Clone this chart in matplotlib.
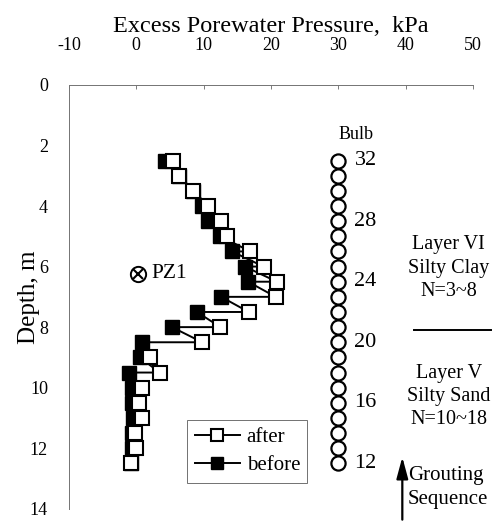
import numpy as np
import matplotlib
matplotlib.use('Agg')
import matplotlib.pyplot as plt
from matplotlib.lines import Line2D

plt.rcParams['font.family'] = ['Liberation Serif', 'DejaVu Serif']
plt.rcParams['axes.unicode_minus'] = False

# depth of each piezometer reading / grouting bulb, m
depth = [2.5, 3.0, 3.5, 4.0, 4.5, 5.0, 5.5, 6.0, 6.5, 7.0, 7.5,
         8.0, 8.5, 9.0, 9.5, 10.0, 10.5, 11.0, 11.5, 12.0, 12.5]
# excess porewater pressure, kPa
after = [5.5, 6.4, 8.5, 10.7, 12.6, 13.5, 16.9, 18.9, 20.9, 20.7, 16.7,
         12.5, 9.8, 2.1, 3.5, 0.8, 0.35, 0.8, -0.2, -0.1, -0.8]
before = [4.3, 6.4, 8.5, 9.8, 10.7, 12.5, 14.2, 16.1, 16.6, 12.6, 9.0,
          5.3, 0.9, 0.5, -1.0, -0.6, -0.6, -0.5, -0.7, -0.6, -0.8]
bulb_no = [32, 31, 30, 29, 28, 27, 26, 25, 24, 23, 22,
           21, 20, 19, 18, 17, 16, 15, 14, 13, 12]
bulb_labelled = [32, 28, 24, 20, 16, 12]
bulb_x = 30

fig = plt.figure(figsize=(4.99, 5.24), dpi=100)
ax = fig.add_axes([0.138, 0.029, 0.810, 0.809])

# readings joined in time order: after(d) -> before(d) -> after(d+0.5) ...
zig_x = np.column_stack([after, before]).ravel()
zig_y = np.repeat(depth, 2)
ax.plot(zig_x, zig_y, color='black', lw=1.4, zorder=2)

ax.plot(before, depth, ls='none', marker='s', ms=9.5, mfc='black', mec='black', zorder=3)
ax.plot(after, depth, ls='none', marker='s', ms=9.5, mfc='white', mec='black', mew=1.5, zorder=4)

# grouting bulbs
ax.plot([bulb_x] * len(depth), depth, color='black', lw=1.3, marker='o', ms=10.2,
        mfc='white', mec='black', mew=1.6, zorder=3)
for b, d in zip(bulb_no, depth):
    if b in bulb_labelled:
        ax.text(bulb_x + 2.4, d, str(b), fontsize=16, ha='left', va='center')
ax.text(bulb_x + 2.7, 1.65, 'Bulb', fontsize=13, ha='center', va='center')

# piezometer PZ1
ax.plot([0.3], [6.24], ls='none', marker='o', ms=11, mfc='white', mec='black', mew=1.4)
ax.plot([0.3], [6.24], ls='none', marker='x', ms=6.5, mec='black', mew=1.5)
ax.text(2.2, 6.24, 'PZ1', fontsize=15.5, ha='left', va='center')

# soil layers
ax.text(46.4, 6.05, 'Layer VI\nSilty Clay\nN=3~8', fontsize=14.5, ha='center',
        va='center', linespacing=1.3)
ax.plot([41.2, 52.6], [8.1, 8.1], color='black', lw=1.4, clip_on=False)
ax.text(46.4, 10.3, 'Layer V\nSilty Sand\nN=10~18', fontsize=14.5, ha='center',
        va='center', linespacing=1.3)

# grouting sequence arrow
ax.annotate('', xy=(39.5, 12.2), xytext=(39.5, 14.45), annotation_clip=False,
            arrowprops=dict(arrowstyle='-|>,head_width=0.35,head_length=1.3',
                            color='black', lw=1.6))
ax.text(40.3, 13.3, 'Grouting\nSequence', fontsize=15, ha='left', va='center',
        linespacing=1.4, clip_on=False)

ax.set_xlim(-10, 50)
ax.set_ylim(14, 0)
ax.xaxis.set_ticks_position('top')
ax.xaxis.set_label_position('top')
ax.set_xticks([-10, 0, 10, 20, 30, 40, 50])
ax.set_yticks([0, 2, 4, 6, 8, 10, 12, 14])
ax.tick_params(axis='x', direction='in', length=3, width=0.6, color='0.4',
               labelsize=13, pad=22)
ax.tick_params(axis='y', length=0, labelsize=13, pad=15)
ax.set_xlabel('Excess Porewater Pressure,  kPa', fontsize=17.5, labelpad=4)
ax.set_ylabel('Depth, m', fontsize=18, labelpad=-7)
for side in ['right', 'bottom']:
    ax.spines[side].set_visible(False)
for side in ['top', 'left']:
    ax.spines[side].set_color('0.45')
    ax.spines[side].set_linewidth(0.7)

handles = [
    Line2D([], [], color='black', lw=1.4, marker='s', ms=9, mfc='white', mec='black', mew=1.5),
    Line2D([], [], color='black', lw=1.4, marker='s', ms=9, mfc='black', mec='black'),
]
leg = ax.legend(handles, ['after', 'before'], loc='lower left',
                bbox_to_anchor=(0.293, 0.062), fontsize=15, frameon=True,
                fancybox=False, edgecolor='0.3', handlelength=2.2,
                borderpad=0.35, labelspacing=0.4, handletextpad=0.3,
                borderaxespad=0)
leg.get_frame().set_linewidth(0.7)

fig.savefig('out.png', dpi=100)
